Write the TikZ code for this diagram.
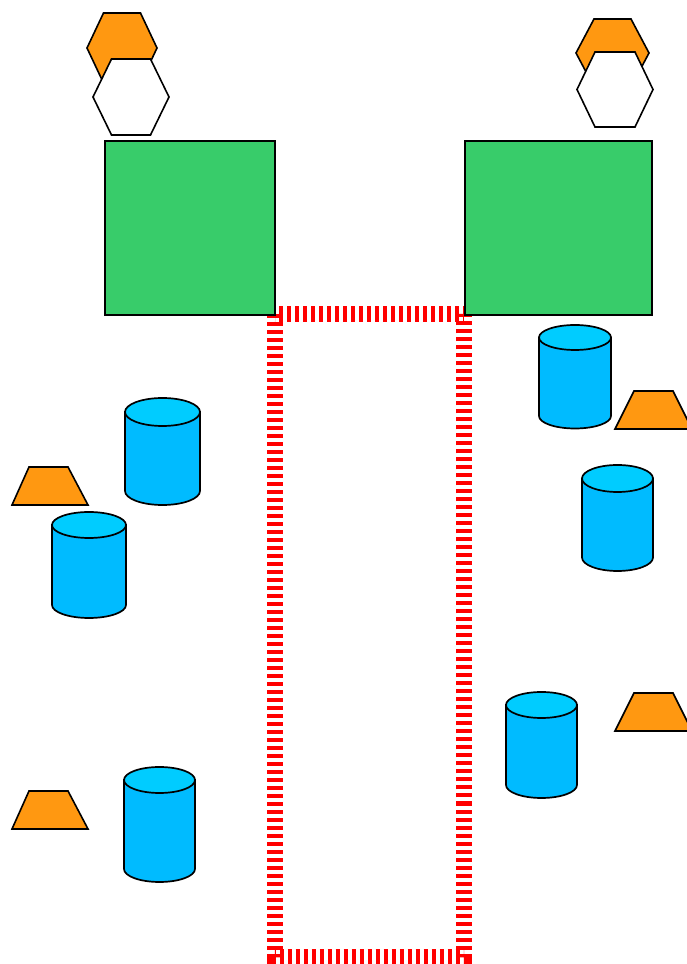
\documentclass[tikz,border=0pt]{standalone}
\usepackage[usenames,dvipsnames]{xcolor}
\usepackage{tikz}

\definecolor{padgreen}{RGB}{56,204,106}
\definecolor{caporange}{RGB}{255,152,17}
\definecolor{tankblue}{RGB}{0,187,255}
\definecolor{tanklight}{RGB}{0,204,255}

\tikzset{
  block/.style={draw=black,line width=1.4pt,fill=padgreen},
  hexcap/.style={draw=black,line width=1.6pt,fill=caporange},
  hexlid/.style={draw=black,line width=1.6pt,fill=white},
  ramp/.style={draw=black,line width=1.6pt,fill=caporange},
  tankbody/.style={draw=black,line width=1.7pt,fill=tankblue},
  tanktop/.style={draw=black,line width=1.7pt,fill=tanklight},
  lane/.style={draw=red,line width=16pt,dash pattern=on 4pt off 4pt}
}

\begin{document}
\begin{tikzpicture}[x=1pt,y=1pt]
  \useasboundingbox (0,0) rectangle (687,964);
  \clip (0,0) rectangle (687,964);

  \draw[lane] (274.5,649.5) rectangle (463.5,6.5);

  \draw[block] (105,823) rectangle (275,649);
  \draw[block] (465,823) rectangle (652,649);

  \draw[hexcap] (87,916) -- (103.5,951) -- (140.5,951) -- (157,916) -- (140.5,881) -- (103.5,881) -- cycle;
  \draw[hexlid] (93,867) -- (111.5,905) -- (150.5,905) -- (169,867) -- (150.5,829) -- (111.5,829) -- cycle;
  \draw[hexcap] (576,911) -- (594,945) -- (631,945) -- (649,911) -- (631,877) -- (594,877) -- cycle;
  \draw[hexlid] (577,874.5) -- (595,912) -- (635,912) -- (653,874.5) -- (635,837) -- (595,837) -- cycle;

  \draw[ramp] (12,459) -- (29,497) -- (68,497) -- (88,459) -- cycle;
  \draw[ramp] (12,135) -- (29,173) -- (68,173) -- (88,135) -- cycle;
  \draw[ramp] (615,535) -- (634,573) -- (673,573) -- (692,535) -- cycle;
  \draw[ramp] (615,233) -- (634,271) -- (673,271) -- (692,233) -- cycle;

  \draw[tankbody] (125,552) -- (125,473) arc[start angle=180,end angle=360,x radius=37.5,y radius=14] -- (200,552) -- cycle;
  \draw[tanktop] (162.5,552) ellipse[x radius=37.5,y radius=14];
  \draw[tankbody] (52,439) -- (52,359) arc[start angle=180,end angle=360,x radius=37,y radius=13] -- (126,439) -- cycle;
  \draw[tanktop] (89,439) ellipse[x radius=37,y radius=13];
  \draw[tankbody] (124,184) -- (124,95) arc[start angle=180,end angle=360,x radius=35.5,y radius=13] -- (195,184) -- cycle;
  \draw[tanktop] (159.5,184) ellipse[x radius=35.5,y radius=13];
  \draw[tankbody] (539,626.5) -- (539,548) arc[start angle=180,end angle=360,x radius=36,y radius=12.5] -- (611,626.5) -- cycle;
  \draw[tanktop] (575,626.5) ellipse[x radius=36,y radius=12.5];
  \draw[tankbody] (582,485.5) -- (582,406.5) arc[start angle=180,end angle=360,x radius=35.5,y radius=13.5] -- (653,485.5) -- cycle;
  \draw[tanktop] (617.5,485.5) ellipse[x radius=35.5,y radius=13.5];
  \draw[tankbody] (506,259) -- (506,179) arc[start angle=180,end angle=360,x radius=35.5,y radius=13] -- (577,259) -- cycle;
  \draw[tanktop] (541.5,259) ellipse[x radius=35.5,y radius=13];
\end{tikzpicture}
\end{document}
